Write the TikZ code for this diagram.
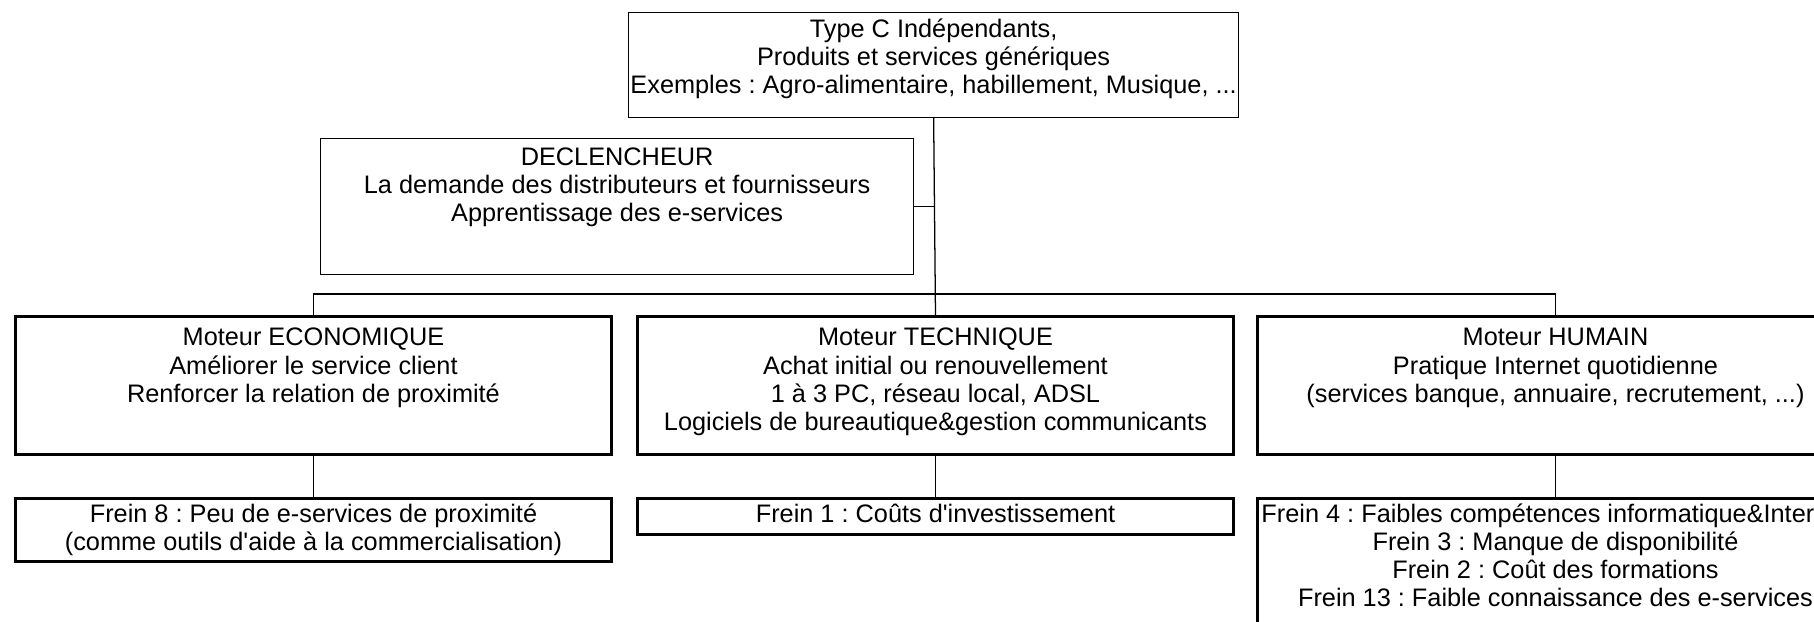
\documentclass[tikz,border=0pt]{standalone}
\usepackage{fontspec}
\setmainfont{Liberation Sans}[Ligatures=TeXOff]

\newdimen\px
\px=0.71132pt
\newcommand{\cadre}[4]{\parbox[c][#1\px][t]{#2\px}{\centering\vspace*{#3pt}\rule{0pt}{15pt}#4}}

\begin{document}
\frenchspacing
\begin{tikzpicture}[x=0.025cm, y=-0.025cm,
        font=\fontsize{18pt}{20pt}\selectfont,
        mince/.style={draw, line width=0.8pt, inner sep=0pt, anchor=north west},
        epais/.style={draw, line width=2pt, inner sep=0pt, anchor=north west},
        lien/.style={line width=0.9pt}]
                    \useasboundingbox (0,0) rectangle (1814,621);
                    \clip (0,0) rectangle (1814,621);

                    \node[mince] (type) at (628,12) {\cadre{105}{610}{2.5}{Type C Indépendants,\\ Produits et services génériques\\ Exemples : Agro-alimentaire, habillement, Musique, ...}};
                    \node[mince] (decl) at (320,138) {\cadre{136}{593}{4.3}{DECLENCHEUR\\ La demande des distributeurs et fournisseurs\\ Apprentissage des e-services}};

                    \node[epais] (eco) at (14,315) {\cadre{138}{596}{6}{Moteur ECONOMIQUE\\ Améliorer le service client\\ Renforcer la relation de proximité}};
                    \node[epais] (tech) at (636,315) {\cadre{138}{596}{6}{Moteur TECHNIQUE\\ Achat initial ou renouvellement\\ 1 à 3 PC, réseau local, ADSL\\ Logiciels de bureautique\&gestion communicants}};
                    \node[epais] (hum) at (1256,315) {\cadre{138}{596}{6}{Moteur HUMAIN\\ Pratique Internet quotidienne\\ (services banque, annuaire, recrutement, ...)}};

                    \node[epais] (f8) at (14,497) {\cadre{63}{596}{2}{Frein 8 : Peu de e-services de proximité\\ (comme outils d'aide à la commercialisation)}};
                    \node[epais] (f1) at (636,497) {\cadre{36}{596}{2}{Frein 1 : Coûts d'investissement}};
                    \node[epais] (fhum) at (1256,497) {\cadre{140}{596}{2}{Frein 4 : Faibles compétences informatique\&Internet\\ Frein 3 : Manque de disponibilité\\ Frein 2 : Coût des formations\\ Frein 13 : Faible connaissance des e-services}};

                    \coordinate (bus) at (type.south |- 0,294);

                    \draw[lien] (type.south) -- (tech.north);
                    \draw[lien] (decl.east) -- (decl.east -| type.south);
                    \draw[lien] (eco.north) |- (bus) -| (hum.north);

                    \foreach \m/\f in {eco/f8, tech/f1, hum/fhum} {
                        \draw[lien] (\m.south) -- (\f.north);
                    }
                \end{tikzpicture}
\end{document}
